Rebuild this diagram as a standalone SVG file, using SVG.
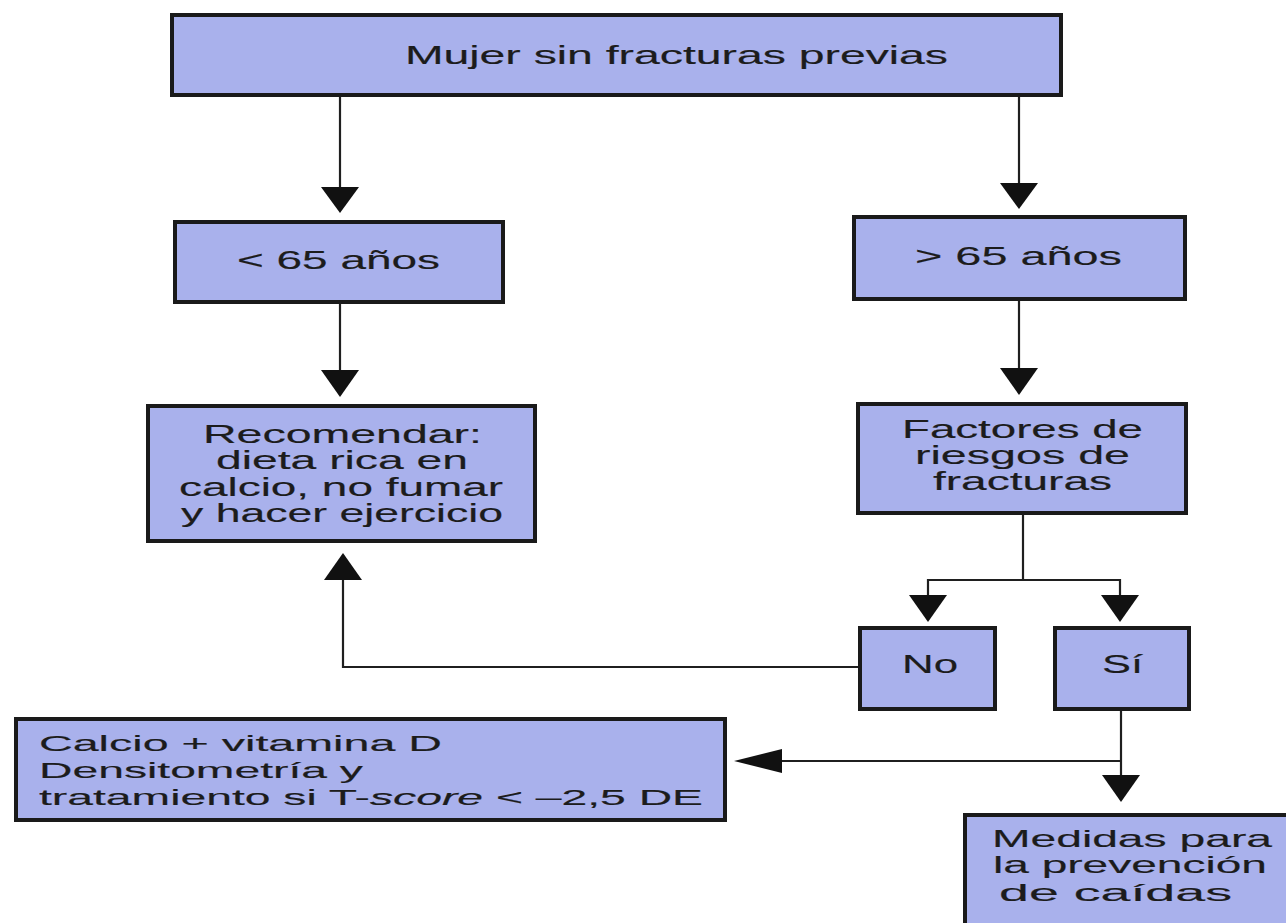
<svg xmlns="http://www.w3.org/2000/svg" width="1286" height="923" viewBox="0 0 1286 923">
<style>
.box{fill:#a9b1ec;stroke:#1a1a1a;stroke-width:4}
.t{font-family:"Liberation Sans",Arial,sans-serif;font-size:25px;fill:#1c1c1c;stroke:#1c1c1c;stroke-width:0.15}
.s{font-size:22px}
.m{font-size:24px}
.ln{fill:none;stroke:#1f1f1f;stroke-width:2.2}
.ah{fill:#111}
</style>
<rect width="1286" height="923" fill="#ffffff"/>

<g id="connectors">
  <line class="ln" x1="340" y1="97" x2="340" y2="190"/>
  <polygon class="ah" points="321,187 359,187 340,213"/>
  <line class="ln" x1="1019" y1="97" x2="1019" y2="186"/>
  <polygon class="ah" points="1000,183 1038,183 1019,209"/>
  <line class="ln" x1="340" y1="304" x2="340" y2="373"/>
  <polygon class="ah" points="321,370 359,370 340,397"/>
  <line class="ln" x1="1019" y1="301" x2="1019" y2="371"/>
  <polygon class="ah" points="1000,368 1038,368 1019,395"/>
  <polyline class="ln" points="858,667 343,667 343,578"/>
  <polygon class="ah" points="324,580 362,580 343,553"/>
  <line class="ln" x1="1023" y1="515" x2="1023" y2="580"/>
  <polyline class="ln" points="928,597 928,580 1120,580 1120,597"/>
  <polygon class="ah" points="909,595 947,595 928,622"/>
  <polygon class="ah" points="1101,595 1139,595 1120,622"/>
  <line class="ln" x1="1121" y1="711" x2="1121" y2="778"/>
  <polygon class="ah" points="1102,775 1140,775 1121,802"/>
  <line class="ln" x1="1121" y1="761" x2="779" y2="761"/>
  <polygon class="ah" points="782,749 782,773 734,761"/>
</g>

<g id="n-mujer">
  <rect class="box" x="172" y="15" width="889" height="80"/>
  <text class="t" x="405" y="64" textLength="543" lengthAdjust="spacingAndGlyphs">Mujer sin fracturas previas</text>
</g>

<g id="n-menor65">
  <rect class="box" x="175" y="222" width="328" height="80"/>
  <text class="t" x="237" y="269" textLength="203" lengthAdjust="spacingAndGlyphs">&lt; 65 años</text>
</g>

<g id="n-mayor65">
  <rect class="box" x="854" y="217" width="331" height="82"/>
  <text class="t" x="915" y="265" textLength="207" lengthAdjust="spacingAndGlyphs">&gt; 65 años</text>
</g>

<g id="n-recomendar">
  <rect class="box" x="148" y="406" width="387" height="135"/>
  <text class="t" x="203" y="443" textLength="279" lengthAdjust="spacingAndGlyphs">Recomendar:</text>
  <text class="t" x="216" y="469" textLength="252" lengthAdjust="spacingAndGlyphs">dieta rica en</text>
  <text class="t" x="179" y="496" textLength="324" lengthAdjust="spacingAndGlyphs">calcio, no fumar</text>
  <text class="t" x="181" y="522" textLength="322" lengthAdjust="spacingAndGlyphs">y hacer ejercicio</text>
</g>

<g id="n-factores">
  <rect class="box" x="858" y="404" width="328" height="109"/>
  <text class="t" x="902" y="438" textLength="241" lengthAdjust="spacingAndGlyphs">Factores de</text>
  <text class="t" x="915" y="464" textLength="215" lengthAdjust="spacingAndGlyphs">riesgos de</text>
  <text class="t" x="933" y="490" textLength="179" lengthAdjust="spacingAndGlyphs">fracturas</text>
</g>

<g id="n-no">
  <rect class="box" x="860" y="628" width="135" height="81"/>
  <text class="t" x="902" y="673" textLength="56" lengthAdjust="spacingAndGlyphs">No</text>
</g>

<g id="n-si">
  <rect class="box" x="1055" y="628" width="134" height="81"/>
  <text class="t" x="1102" y="673" textLength="41" lengthAdjust="spacingAndGlyphs">Sí</text>
</g>

<g id="n-calcio">
  <rect class="box" x="16" y="719" width="709" height="101"/>
  <text class="t s" x="39" y="751" textLength="403" lengthAdjust="spacingAndGlyphs">Calcio + vitamina D</text>
  <text class="t s" x="39" y="778" textLength="324" lengthAdjust="spacingAndGlyphs">Densitometría y</text>
  <text class="t s" x="39" y="805" textLength="664" lengthAdjust="spacingAndGlyphs">tratamiento si T-<tspan font-style="italic">score</tspan> &lt; –2,5 DE</text>
</g>

<g id="n-medidas">
  <rect class="box" x="965" y="815" width="340" height="130"/>
  <text class="t m" x="992" y="847" textLength="280" lengthAdjust="spacingAndGlyphs">Medidas para</text>
  <text class="t m" x="993" y="873" textLength="274" lengthAdjust="spacingAndGlyphs">la prevención</text>
  <text class="t m" x="999" y="901" textLength="233" lengthAdjust="spacingAndGlyphs">de caídas</text>
</g>
</svg>
